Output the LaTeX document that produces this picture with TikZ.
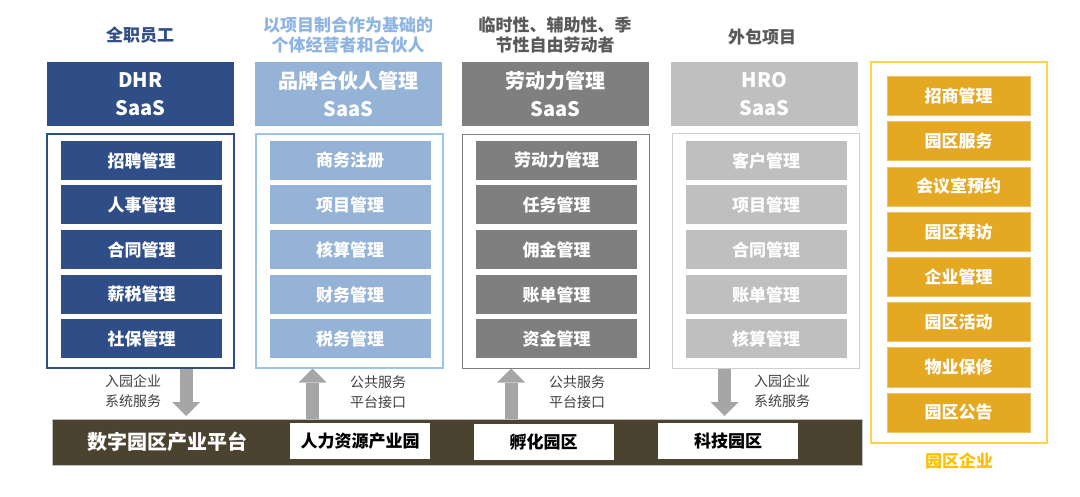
\documentclass[tikz,border=0pt]{standalone}
\usepackage{fontspec}
\setmainfont{Noto Sans CJK SC}
\usetikzlibrary{arrows.meta}
\definecolor{dblue}{HTML}{2F4D87}
\definecolor{lblue}{HTML}{95B3D7}
\definecolor{lbluetxt}{HTML}{8DB4E2}
\definecolor{lblueline}{HTML}{9DC3E6}
\definecolor{dgray}{HTML}{7F7F7F}
\definecolor{lgray}{HTML}{BFBFBF}
\definecolor{lgrayline}{HTML}{CFCFCF}
\definecolor{gold}{HTML}{E5A823}
\definecolor{goldline}{HTML}{FFD24D}
\definecolor{goldtxt}{HTML}{FFC000}
\definecolor{olive}{HTML}{4B4330}
\definecolor{arrgray}{HTML}{A6A6A6}
\definecolor{txtgray}{HTML}{404040}
\definecolor{labgray}{HTML}{595959}
\begin{document}
\begin{tikzpicture}[x=1pt,y=-1pt,
  item/.style={rectangle, inner sep=0pt, text=white, font=\bfseries\fontsize{17}{17}\selectfont, minimum height=39pt, minimum width=161pt},
  head/.style={rectangle, inner sep=0pt, text=white, font=\bfseries\fontsize{20}{28}\selectfont, align=center, minimum height=64pt, minimum width=187pt},
  frm/.style={rectangle, draw, fill=white, line width=1.2pt, minimum width=187pt, minimum height=234pt, inner sep=0pt},
  lab/.style={font=\bfseries\fontsize{17}{20}\selectfont, align=center, inner sep=0pt},
  alab/.style={font=\fontsize{14}{20}\selectfont, align=center, text=txtgray, inner sep=0pt},
  gitem/.style={rectangle, fill=gold, draw=gold!70!white, line width=0.4pt, inner sep=0pt, text=white, font=\bfseries\fontsize{17}{17}\selectfont, minimum height=39pt, minimum width=143pt},
  wbox/.style={rectangle, fill=white, inner sep=0pt, text=black, font=\bfseries\fontsize{17}{17}\selectfont, minimum height=36pt, minimum width=140pt},
  barr/.style={draw=arrgray, line width=13pt, -{Triangle[width=28pt,length=14pt,line width=0pt]}}
]
\useasboundingbox (0,0) rectangle (1080,497);

% column labels
\node[lab, text=dblue] (l1) at (140,35) {全职员工};
\node[lab, text=lbluetxt] (l2) at (348,35) {以项目制合作为基础的\\个体经营者和合伙人};
\node[lab, text=labgray] (l3) at (555,35) {临时性、辅助性、季\\节性自由劳动者};
\node[lab, text=labgray] (l4) at (762,37) {外包项目};

% headers
\node[head, fill=dblue] (h1) at (140.5,94) {DHR\\SaaS};
\node[head, fill=lblue] (h2) at (348.5,94) {品牌合伙人管理\\SaaS};
\node[head, fill=dgray] (h3) at (555.5,94) {劳动力管理\\SaaS};
\node[head, fill=lgray] (h4) at (764.5,94) {HRO\\SaaS};

% frames
\node[frm, draw=dblue] (f1) at (140.5,251) {};
\node[frm, draw=lblueline] (f2) at (349.5,251) {};
\node[frm, draw=dgray, line width=0.8pt] (f3) at (555.5,251) {};
\node[frm, draw=lgrayline, line width=1pt] (f4) at (765.5,251) {};

% column 1 items
\node[item, fill=dblue] (c1a) at (141.5,160.5) {招聘管理};
\node[item, fill=dblue] (c1b) at (141.5,204.5) {人事管理};
\node[item, fill=dblue] (c1c) at (141.5,249.5) {合同管理};
\node[item, fill=dblue] (c1d) at (141.5,294.5) {薪税管理};
\node[item, fill=dblue] (c1e) at (141.5,339) {社保管理};
% column 2 items
\node[item, fill=lblue] (c2a) at (350,160.5) {商务注册};
\node[item, fill=lblue] (c2b) at (350,204.5) {项目管理};
\node[item, fill=lblue] (c2c) at (350,249.5) {核算管理};
\node[item, fill=lblue] (c2d) at (350,294.5) {财务管理};
\node[item, fill=lblue] (c2e) at (350,339) {税务管理};
% column 3 items
\node[item, fill=dgray] (c3a) at (556.5,160.5) {劳动力管理};
\node[item, fill=dgray] (c3b) at (556.5,204.5) {任务管理};
\node[item, fill=dgray] (c3c) at (556.5,249.5) {佣金管理};
\node[item, fill=dgray] (c3d) at (556.5,294.5) {账单管理};
\node[item, fill=dgray] (c3e) at (556.5,339) {资金管理};
% column 4 items
\node[item, fill=lgray] (c4a) at (766,160.5) {客户管理};
\node[item, fill=lgray] (c4b) at (766,204.5) {项目管理};
\node[item, fill=lgray] (c4c) at (766,249.5) {合同管理};
\node[item, fill=lgray] (c4d) at (766,294.5) {账单管理};
\node[item, fill=lgray] (c4e) at (766,339) {核算管理};

% right column
\node[rectangle, draw=goldline, line width=1.3pt, minimum width=176pt, minimum height=381pt, inner sep=0pt] (rf) at (959,252.5) {};
\node[gitem] (r1) at (958.5,96) {招商管理};
\node[gitem] (r2) at (958.5,141.2) {园区服务};
\node[gitem] (r3) at (958.5,186.4) {会议室预约};
\node[gitem] (r4) at (958.5,231.6) {园区拜访};
\node[gitem] (r5) at (958.5,276.8) {企业管理};
\node[gitem] (r6) at (958.5,322) {园区活动};
\node[gitem] (r7) at (958.5,367.2) {物业保修};
\node[gitem] (r8) at (958.5,412.4) {园区公告};
\node[lab, text=goldtxt] (rl) at (959,461) {园区企业};

% bottom bar
\node[rectangle, fill=olive, draw=lgray, line width=0.6pt, minimum width=810pt, minimum height=46pt, inner sep=0pt] (bar) at (457,442.5) {};
\node[font=\bfseries\fontsize{20}{20}\selectfont, text=white, inner sep=0pt] (bl) at (167,442) {数字园区产业平台};
\node[wbox] (p1) at (360,441) {人力资源产业园};
\node[wbox] (p2) at (543.5,442) {孵化园区};
\node[wbox] (p3) at (728,441) {科技园区};

% arrows
\coordinate (a1s) at (186,369);
\coordinate (a1e) at (186,416);
\coordinate (a2s) at (312.5,419);
\coordinate (a2e) at (312.5,368.5);
\coordinate (a3s) at (511,419);
\coordinate (a3e) at (511,368.5);
\coordinate (a4s) at (724.5,369);
\coordinate (a4e) at (724.5,416);
\draw[barr] (a1s) -- (a1e);
\draw[barr] (a2s) -- (a2e);
\draw[barr] (a3s) -- (a3e);
\draw[barr] (a4s) -- (a4e);

\node[alab] (t1) at (133,391) {入园企业\\系统服务};
\node[alab] (t2) at (378,392.5) {公共服务\\平台接口};
\node[alab] (t3) at (577,392.5) {公共服务\\平台接口};
\node[alab] (t4) at (782,391.5) {入园企业\\系统服务};
\end{tikzpicture}
\end{document}
